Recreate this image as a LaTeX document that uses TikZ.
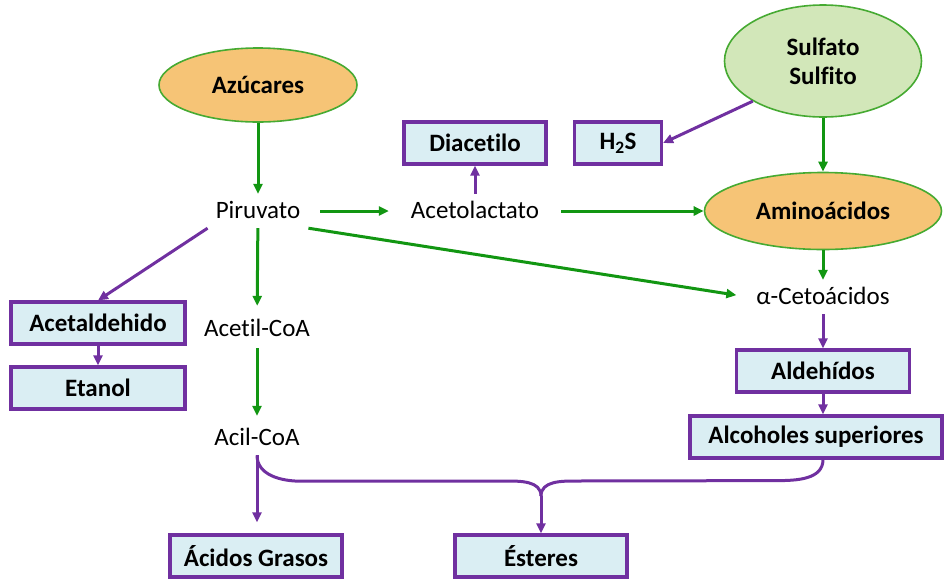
\documentclass[tikz,border=0pt]{standalone}
\usepackage{fontspec}
\setmainfont{Carlito}[Ligatures=NoCommon]
\usepackage{tikz}
\usetikzlibrary{positioning,arrows.meta,calc,shapes.geometric}
\definecolor{verde}{RGB}{18,150,18}
\definecolor{borde}{RGB}{70,170,50}
\definecolor{morado}{RGB}{112,48,160}
\definecolor{celeste}{RGB}{218,238,243}
\definecolor{naranja}{RGB}{246,196,118}
\definecolor{verdeclaro}{RGB}{210,231,185}

\begin{document}
\begin{tikzpicture}[x=1pt,y=1pt,>={Triangle[length=10pt,width=9pt]},
  font=\fontsize{25}{29}\selectfont,
  texto/.style={inner sep=8pt,text height=16pt,text depth=2pt},
  caja/.style={draw=morado,line width=3.2pt,fill=celeste,minimum height=42pt,inner sep=0pt,font=\fontsize{25}{29}\selectfont\bfseries},
  elipse/.style={ellipse,draw=borde,line width=1.6pt,inner sep=0pt,align=center,font=\fontsize{25}{29}\selectfont\bfseries},
  flv/.style={->,draw=verde,fill=verde,line width=3pt},
  flm/.style={->,draw=morado,fill=morado,line width=3pt}]
\useasboundingbox (0,0) rectangle (945,-579);
% fuentes
\node[elipse,fill=naranja,minimum width=198pt,minimum height=74pt] (azucar) at (258,-85) {Azúcares};
\node[elipse,fill=verdeclaro,minimum width=197pt,minimum height=112pt] (sulfato) at (823,-61) {Sulfato\\Sulfito};
\node[elipse,fill=naranja,minimum width=237pt,minimum height=77pt] (amino) at (823,-211) {Aminoácidos};
% intermedios
\node[texto] (piru) at (258,-211) {Piruvato};
\node[texto] (acetol) at (475,-211) {Acetolactato};
\node[texto] (ceto) at (823,-297) {α-Cetoácidos};
\node[texto] (acetil) at (257,-329) {Acetil-CoA};
\node[texto] (acil) at (257,-438) {Acil-CoA};
% productos
\node[caja,minimum width=142pt] (diac) at (475,-143) {Diacetilo};
\node[caja,minimum width=87pt] (hs) at (618,-143) {H\textsubscript{2}S};
\node[caja,minimum width=174pt] (acetald) at (98,-323) {Acetaldehido};
\node[caja,minimum width=174pt] (etanol) at (98,-388) {Etanol};
\node[caja,minimum width=173pt] (aldeh) at (823,-371) {Aldehídos};
\node[caja,minimum width=252pt] (alcoh) at (816,-437) {Alcoholes superiores};
\node[caja,minimum width=172pt] (acidos) at (256,-556) {Ácidos Grasos};
\node[caja,minimum width=172pt] (ester) at (541,-556) {Ésteres};
\coordinate (junta) at (541,-496);

\draw[flv] (azucar) -- (piru);
\draw[flv,shorten <=12pt,shorten >=14pt] (piru) -- (acetol);
\draw[flv,shorten <=14pt] (acetol) -- (amino);
\draw[flv] (sulfato) -- (amino);
\draw[flv] (amino) -- (ceto);
\draw[flv,shorten >=12pt] (piru.south east) -- (ceto.west);
\draw[flv,shorten >=6pt] (piru) -- (acetil);
\draw[flv,shorten <=2pt,shorten >=5pt] (acetil) -- (acil);
\draw[flm] (acetol) -- (diac);
\draw[flm] (sulfato.south west) -- (hs.east);
\draw[flm] (piru.south west) -- (acetald.north);
\draw[flm] (acetald) -- (etanol);
\draw[flm] (ceto) -- (aldeh);
\draw[flm] (aldeh) -- (aldeh |- alcoh.north);
\draw[flm,shorten >=11pt] (acil) -- (acil |- acidos.north);
% union hacia esteres
\draw[morado,line width=3pt] (acil.south) to[out=-90,in=180] ($(acil.south)+(44,-26)$) -- ($(junta)+(-36,15)$) to[out=0,in=90] (junta);
\draw[morado,line width=3pt] (aldeh |- alcoh.south) to[out=-90,in=0] ($(aldeh |- alcoh.south)+(-46,-21)$) -- ($(junta)+(36,15)$) to[out=180,in=90] (junta);
\draw[flm] (junta) -- (ester);
\end{tikzpicture}
\end{document}
